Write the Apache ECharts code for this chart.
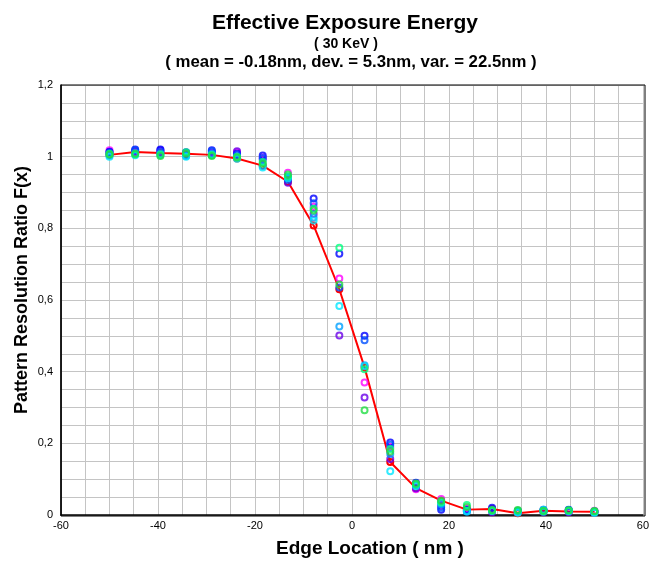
<!DOCTYPE html>
<html>
<head>
<meta charset="utf-8">
<script src="https://cdn.jsdelivr.net/npm/echarts@6/dist/echarts.min.js"></script>
<style>
  html, body { margin: 0; padding: 0; background: #fff; }
  #chart { width: 652px; height: 563px; }
</style>
</head>
<body>
<div id="chart"></div>
<script>
// edge locations (nm)
const edgeX = [-50, -44.7, -39.5, -34.2, -28.9, -23.7, -18.4, -13.2, -7.9, -2.6,
  2.6, 7.9, 13.2, 18.4, 23.7, 28.9, 34.2, 39.5, 44.7, 50];

// mean curve (red)
const meanY = [1.005, 1.013, 1.010, 1.008, 1.005, 0.995, 0.975, 0.930, 0.808, 0.630,
  0.412, 0.148, 0.075, 0.040, 0.015, 0.017, 0.005, 0.012, 0.010, 0.009];

// measured runs
const runMagenta = [1.018, 1.014, 1.016, 1.010, 1.012, 1.012, 0.998, 0.955, 0.860, 0.660,
  0.370, 0.190, 0.072, 0.045, 0.018, 0.015, 0.010, 0.012, 0.012, 0.012];
const runViolet = [1.012, 1.016, 1.018, 1.006, 1.010, 1.015, 0.992, 0.927, 0.840, 0.501,
  0.328, 0.156, 0.075, 0.025, 0.012, 0.008, 0.008, 0.008, 0.008, 0.008];
const runBlue = [1.014, 1.020, 1.020, 1.012, 1.018, 1.008, 1.003, 0.940, 0.883, 0.729,
  0.500, 0.202, 0.090, 0.015, 0.015, 0.020, 0.012, 0.015, 0.014, 0.010];
const runRoyal = [1.010, 1.018, 1.014, 1.004, 1.015, 1.005, 0.996, 0.935, 0.870, 0.635,
  0.488, 0.196, 0.082, 0.020, 0.010, 0.015, 0.010, 0.012, 0.015, 0.008];
const runAzure = [1.003, 1.010, 1.008, 1.002, 1.008, 0.998, 0.975, 0.945, 0.830, 0.526,
  0.418, 0.170, 0.085, 0.030, 0.012, 0.012, 0.008, 0.010, 0.010, 0.008];
const runCyan = [1.000, 1.004, 1.004, 1.000, 1.004, 0.994, 0.970, 0.940, 0.822, 0.583,
  0.415, 0.122, 0.080, 0.035, 0.010, 0.012, 0.006, 0.015, 0.012, 0.006];
const runSpring = [1.008, 1.006, 1.006, 1.012, 1.005, 1.000, 0.985, 0.945, 0.855, 0.746,
  0.407, 0.184, 0.085, 0.035, 0.028, 0.012, 0.012, 0.010, 0.012, 0.010];
const runGreen = [1.006, 1.008, 1.002, 1.008, 1.002, 0.998, 0.980, 0.950, 0.850, 0.643,
  0.292, 0.177, 0.088, 0.040, 0.022, 0.014, 0.014, 0.012, 0.013, 0.011];

const runs = [
  { data: runMagenta, color: '#ff00ff' },
  { data: runViolet, color: '#6a00e8' },
  { data: runBlue, color: '#0000ff' },
  { data: runRoyal, color: '#0050ff' },
  { data: runAzure, color: '#00a0ff' },
  { data: runCyan, color: '#00e6ff' },
  { data: runSpring, color: '#00ff80' },
  { data: runGreen, color: '#22dd44' },
];

const pair = (ys) => edgeX.map((x, i) => [x, ys[i]]);
const isStep = (v, step) => Math.abs(v / step - Math.round(v / step)) < 1e-6;

const chart = echarts.init(document.getElementById('chart'));

const series = [
  {
    name: 'mean',
    type: 'line',
    data: pair(meanY),
    symbol: 'circle',
    symbolSize: 6,
    itemStyle: { color: 'rgba(0,0,0,0)', borderColor: '#ff0000', borderWidth: 2 },
    lineStyle: { color: '#ff0000', width: 2 },
    z: 2,
  },
];
runs.forEach((r) => {
  series.push({
    type: 'scatter',
    data: pair(r.data),
    symbol: 'circle',
    symbolSize: 6,
    itemStyle: { color: 'rgba(0,0,0,0)', borderColor: r.color, borderWidth: 2 },
    z: 3,
  });
});

const titleFont = { fontFamily: 'Liberation Sans', fontWeight: 'bold', color: '#000' };

chart.setOption({
  animation: false,
  title: [
    {
      text: 'Effective Exposure Energy',
      left: 340, top: 8, textAlign: 'center',
      textStyle: Object.assign({ fontSize: 21 }, titleFont),
    },
    {
      text: '( 30 KeV )',
      left: 341, top: 32, textAlign: 'center',
      textStyle: Object.assign({ fontSize: 14 }, titleFont),
    },
    {
      text: '( mean = -0.18nm, dev. = 5.3nm, var. = 22.5nm )',
      left: 346, top: 49, textAlign: 'center',
      textStyle: Object.assign({ fontSize: 16.8 }, titleFont),
    },
  ],
  grid: { left: 61, right: 7, top: 85, bottom: 47 },
  xAxis: {
    type: 'value',
    min: -60, max: 60, interval: 5,
    name: 'Edge Location ( nm )',
    nameLocation: 'middle', nameGap: 24,
    nameTextStyle: { fontFamily: 'Liberation Sans', fontSize: 19, fontWeight: 'bold', color: '#000', padding: [0, 0, 0, 36] },
    axisLine: { show: true, onZero: false, lineStyle: { color: '#000', width: 1.5 } },
    axisTick: { show: false },
    axisLabel: {
      fontFamily: 'Liberation Sans', fontSize: 11, color: '#000', margin: 5,
      formatter: (v) => (isStep(v, 20) ? String(v) : ''),
    },
    splitLine: { show: true, lineStyle: { color: '#c4c4c4', width: 1 } },
  },
  yAxis: {
    type: 'value',
    min: 0, max: 1.2, interval: 0.05,
    name: 'Pattern Resolution Ratio F(x)',
    nameLocation: 'middle', nameGap: 30,
    nameMoveOverlap: false,
    nameTextStyle: { fontFamily: 'Liberation Sans', fontSize: 18, fontWeight: 'bold', color: '#000', padding: [0, 0, 0, 20] },
    axisLine: { show: true, onZero: false, lineStyle: { color: '#000', width: 1.5 } },
    axisTick: { show: false },
    axisLabel: {
      fontFamily: 'Liberation Sans', fontSize: 11, color: '#000', margin: 8,
      formatter: (v) => (isStep(v, 0.2) ? String(Math.round(v * 10) / 10).replace('.', ',') : ''),
    },
    splitLine: { show: true, lineStyle: { color: '#c4c4c4', width: 1 } },
  },
  graphic: [
    {
      type: 'rect',
      shape: { x: 61, y: 85, width: 584, height: 431 },
      style: { fill: 'none', stroke: '#000', lineWidth: 1 },
      silent: true,
      z: 1,
    },
  ],
  series: series,
});
</script>
</body>
</html>
